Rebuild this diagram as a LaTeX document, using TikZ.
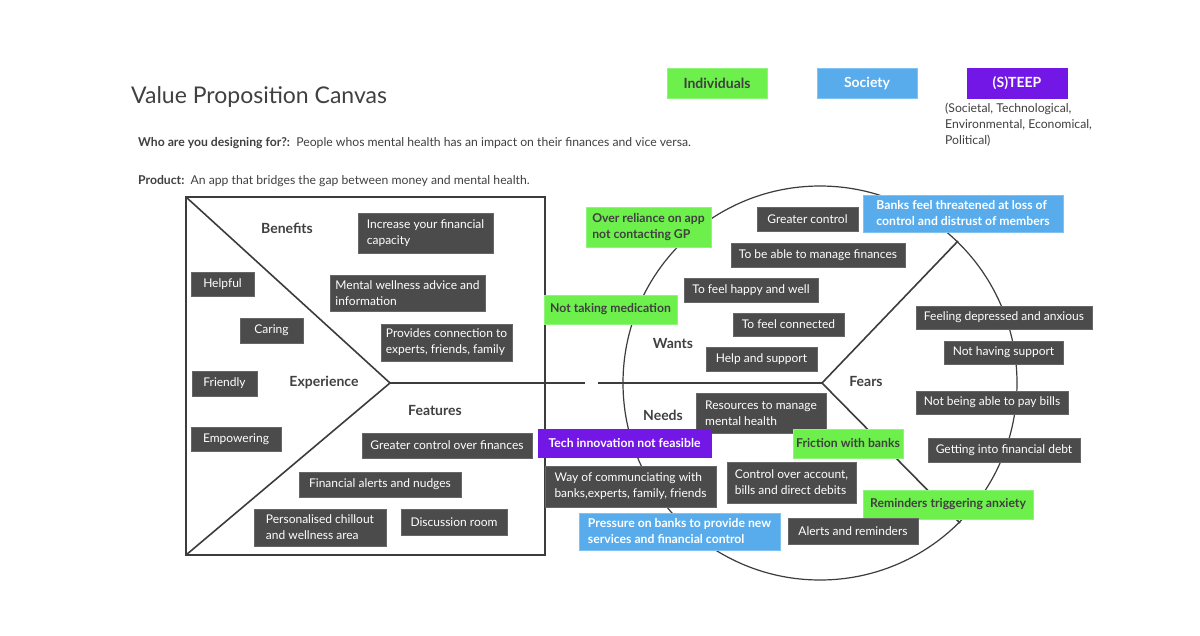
\documentclass[tikz,border=0pt]{standalone}
\usepackage{fontspec}
\setmainfont{Lato}
\definecolor{boxdark}{HTML}{4B4B4B}
\definecolor{edgedark}{HTML}{666666}
\definecolor{boxgreen}{HTML}{6DF04C}
\definecolor{edgegreen}{HTML}{8EF47A}
\definecolor{boxblue}{HTML}{58ACEC}
\definecolor{edgeblue}{HTML}{80C2F2}
\definecolor{boxpurple}{HTML}{7317E6}
\definecolor{txtdark}{HTML}{404040}
\definecolor{linedark}{HTML}{3C3C3C}
\newcommand\bx[7]{%
  \pgfmathsetmacro\mybw{#4-#2}\pgfmathsetmacro\mybh{#5-#3}%
  \pgfmathsetmacro\mycx{(#2+#4)/2}\pgfmathsetmacro\mycy{(#3+#5)/2}%
  \node[#6, minimum width=\mybw pt, minimum height=\mybh pt] (#1) at (\mycx,\mycy) {#7};}
\tikzset{
  base/.style={inner sep=0pt, align=left, font=\fontsize{12}{16}\selectfont},
  dk/.style={base, fill=boxdark, draw=edgedark, line width=0.8pt, text=white},
  gr/.style={base, fill=boxgreen, draw=edgegreen, line width=0.8pt, text=txtdark, font=\fontsize{12.2}{16}\selectfont\bfseries},
  bl/.style={base, fill=boxblue, draw=edgeblue, line width=0.8pt, text=white, font=\fontsize{12.2}{16}\selectfont\bfseries},
  pu/.style={base, fill=boxpurple, draw=boxpurple, line width=0.8pt, text=white, font=\fontsize{12.2}{16}\selectfont\bfseries},
  lab/.style={inner sep=0pt, text=txtdark, font=\fontsize{14}{16}\selectfont\bfseries},
  plain/.style={inner sep=0pt, text=txtdark, font=\fontsize{12.2}{16}\selectfont},
  frame/.style={draw=linedark, line width=1.6pt},
  ring/.style={draw=linedark, line width=1.2pt},
}
\begin{document}
\begin{tikzpicture}[x=1pt,y=-1pt]
\useasboundingbox[fill=white] (0,0) rectangle (1200,635);
% title and intro
\node[anchor=west, inner sep=0pt, text=txtdark, font=\fontsize{23}{26}\selectfont] (title) at (131,97) {Value Proposition Canvas};
\node[plain, anchor=west] (who) at (138,143) {\textbf{Who are you designing for?:}\ \ People whos mental health has an impact on their finances and vice versa.};
\node[plain, anchor=west] (product) at (138,181) {\textbf{Product:}\ \ An app that bridges the gap between money and mental health.};
% legend
\bx{lind}{667}{68}{767}{98}{gr, font=\fontsize{14}{16}\selectfont\bfseries}{Individuals}
\bx{lsoc}{817}{68}{917}{98}{bl, font=\fontsize{14}{16}\selectfont\bfseries}{Society}
\bx{lste}{967}{68}{1067}{98}{pu, font=\fontsize{14}{16}\selectfont\bfseries}{(S)TEEP}
\node[plain, anchor=north west, align=left] (steepnote) at (945,103) {(Societal, Technological,\\Environmental, Economical,\\Political)};
% structural lines
\coordinate (sqTL) at (186,197);
\coordinate (sqBR) at (545,555);
\coordinate (sqBL) at (186,555);
\coordinate (sqV) at (390,383);
\coordinate (hA) at (585,383);
\coordinate (hB) at (598,383);
\coordinate (cc) at (820,383);
\coordinate (fV) at (822,383);
\coordinate (fU) at (958,241);
\coordinate (fD) at (960,523);
\draw[frame] (sqTL) rectangle (sqBR);
\draw[frame] (sqTL) -- (sqV) -- (sqBL);
\draw[frame] (sqV) -- (hA);
\draw[frame] (hB) -- (fV);
\draw[frame] (fU) -- (fV) -- (fD);
\draw[ring] (cc) circle[radius=197pt];
% section labels
\node[lab] (lbenefits) at (287,228) {Benefits};
\node[lab] (lexperience) at (324,382) {Experience};
\node[lab] (lfeatures) at (435,410) {Features};
\node[lab] (lwants) at (673,343) {Wants};
\node[lab] (lneeds) at (663,415) {Needs};
\node[lab] (lfears) at (866,381) {Fears};
% square boxes
\bx{b1}{358}{213}{493}{253}{dk}{Increase your financial\\capacity}
\bx{b2}{191}{272}{254}{296}{dk}{Helpful}
\bx{b3}{330}{275}{485}{311}{dk}{Mental wellness advice and\\information}
\bx{b4}{240}{318}{303}{343}{dk}{Caring}
\bx{b5}{381}{324}{512}{361}{dk}{Provides connection to\\experts, friends, family}
\bx{b6}{192}{371}{257}{396}{dk}{Friendly}
\bx{b7}{191}{427}{281}{451}{dk}{Empowering}
\bx{b8}{362}{433}{532}{458}{dk}{Greater control over finances}
\bx{b9}{299}{472}{461}{497}{dk}{Financial alerts and nudges}
\bx{b10}{254}{509}{386}{546}{dk}{Personalised chillout\\and wellness area}
\bx{b11}{401}{509}{507}{535}{dk}{Discussion room}
% circle boxes
\bx{c1}{586}{207}{711}{247}{gr}{Over reliance on app\\not contacting GP}
\bx{c2}{757}{207}{858}{231}{dk}{Greater control}
\bx{c3}{863}{195}{1063}{232}{bl}{Banks feel threatened at loss of\\control and distrust of members}
\bx{c4}{731}{243}{905}{267}{dk}{To be able to manage finances}
\bx{c5}{684}{278}{818}{302}{dk}{To feel happy and well}
\bx{c6}{544}{295}{677}{324}{gr}{Not taking medication}
\bx{c7}{733}{313}{844}{336}{dk}{To feel connected}
\bx{c8}{706}{347}{817}{371}{dk}{Help and support}
\bx{c9}{916}{306}{1092}{329}{dk}{Feeling depressed and anxious}
\bx{c10}{944}{341}{1063}{364}{dk}{Not having support}
\bx{c11}{916}{391}{1068}{414}{dk}{Not being able to pay bills}
\bx{c12}{928}{438}{1080}{462}{dk}{Getting into financial debt}
\bx{c13}{696}{393}{826}{433}{dk}{Resources to manage\\mental health}
\bx{c14}{793}{429}{903}{458}{gr}{Friction with banks}
\bx{c15}{538}{429}{711}{457}{pu}{Tech innovation not feasible}
\bx{c16}{545}{466}{716}{507}{dk}{Way of communciating with\\banks,experts, family, friends}
\bx{c17}{727}{462}{856}{503}{dk}{Control over account,\\bills and direct debits}
\bx{c18}{863}{490}{1033}{519}{gr}{Reminders triggering anxiety}
\bx{c19}{579}{513}{780}{550}{bl}{Pressure on banks to provide new\\services and financial control}
\bx{c20}{788}{518}{918}{544}{dk}{Alerts and reminders}
\end{tikzpicture}
\end{document}
